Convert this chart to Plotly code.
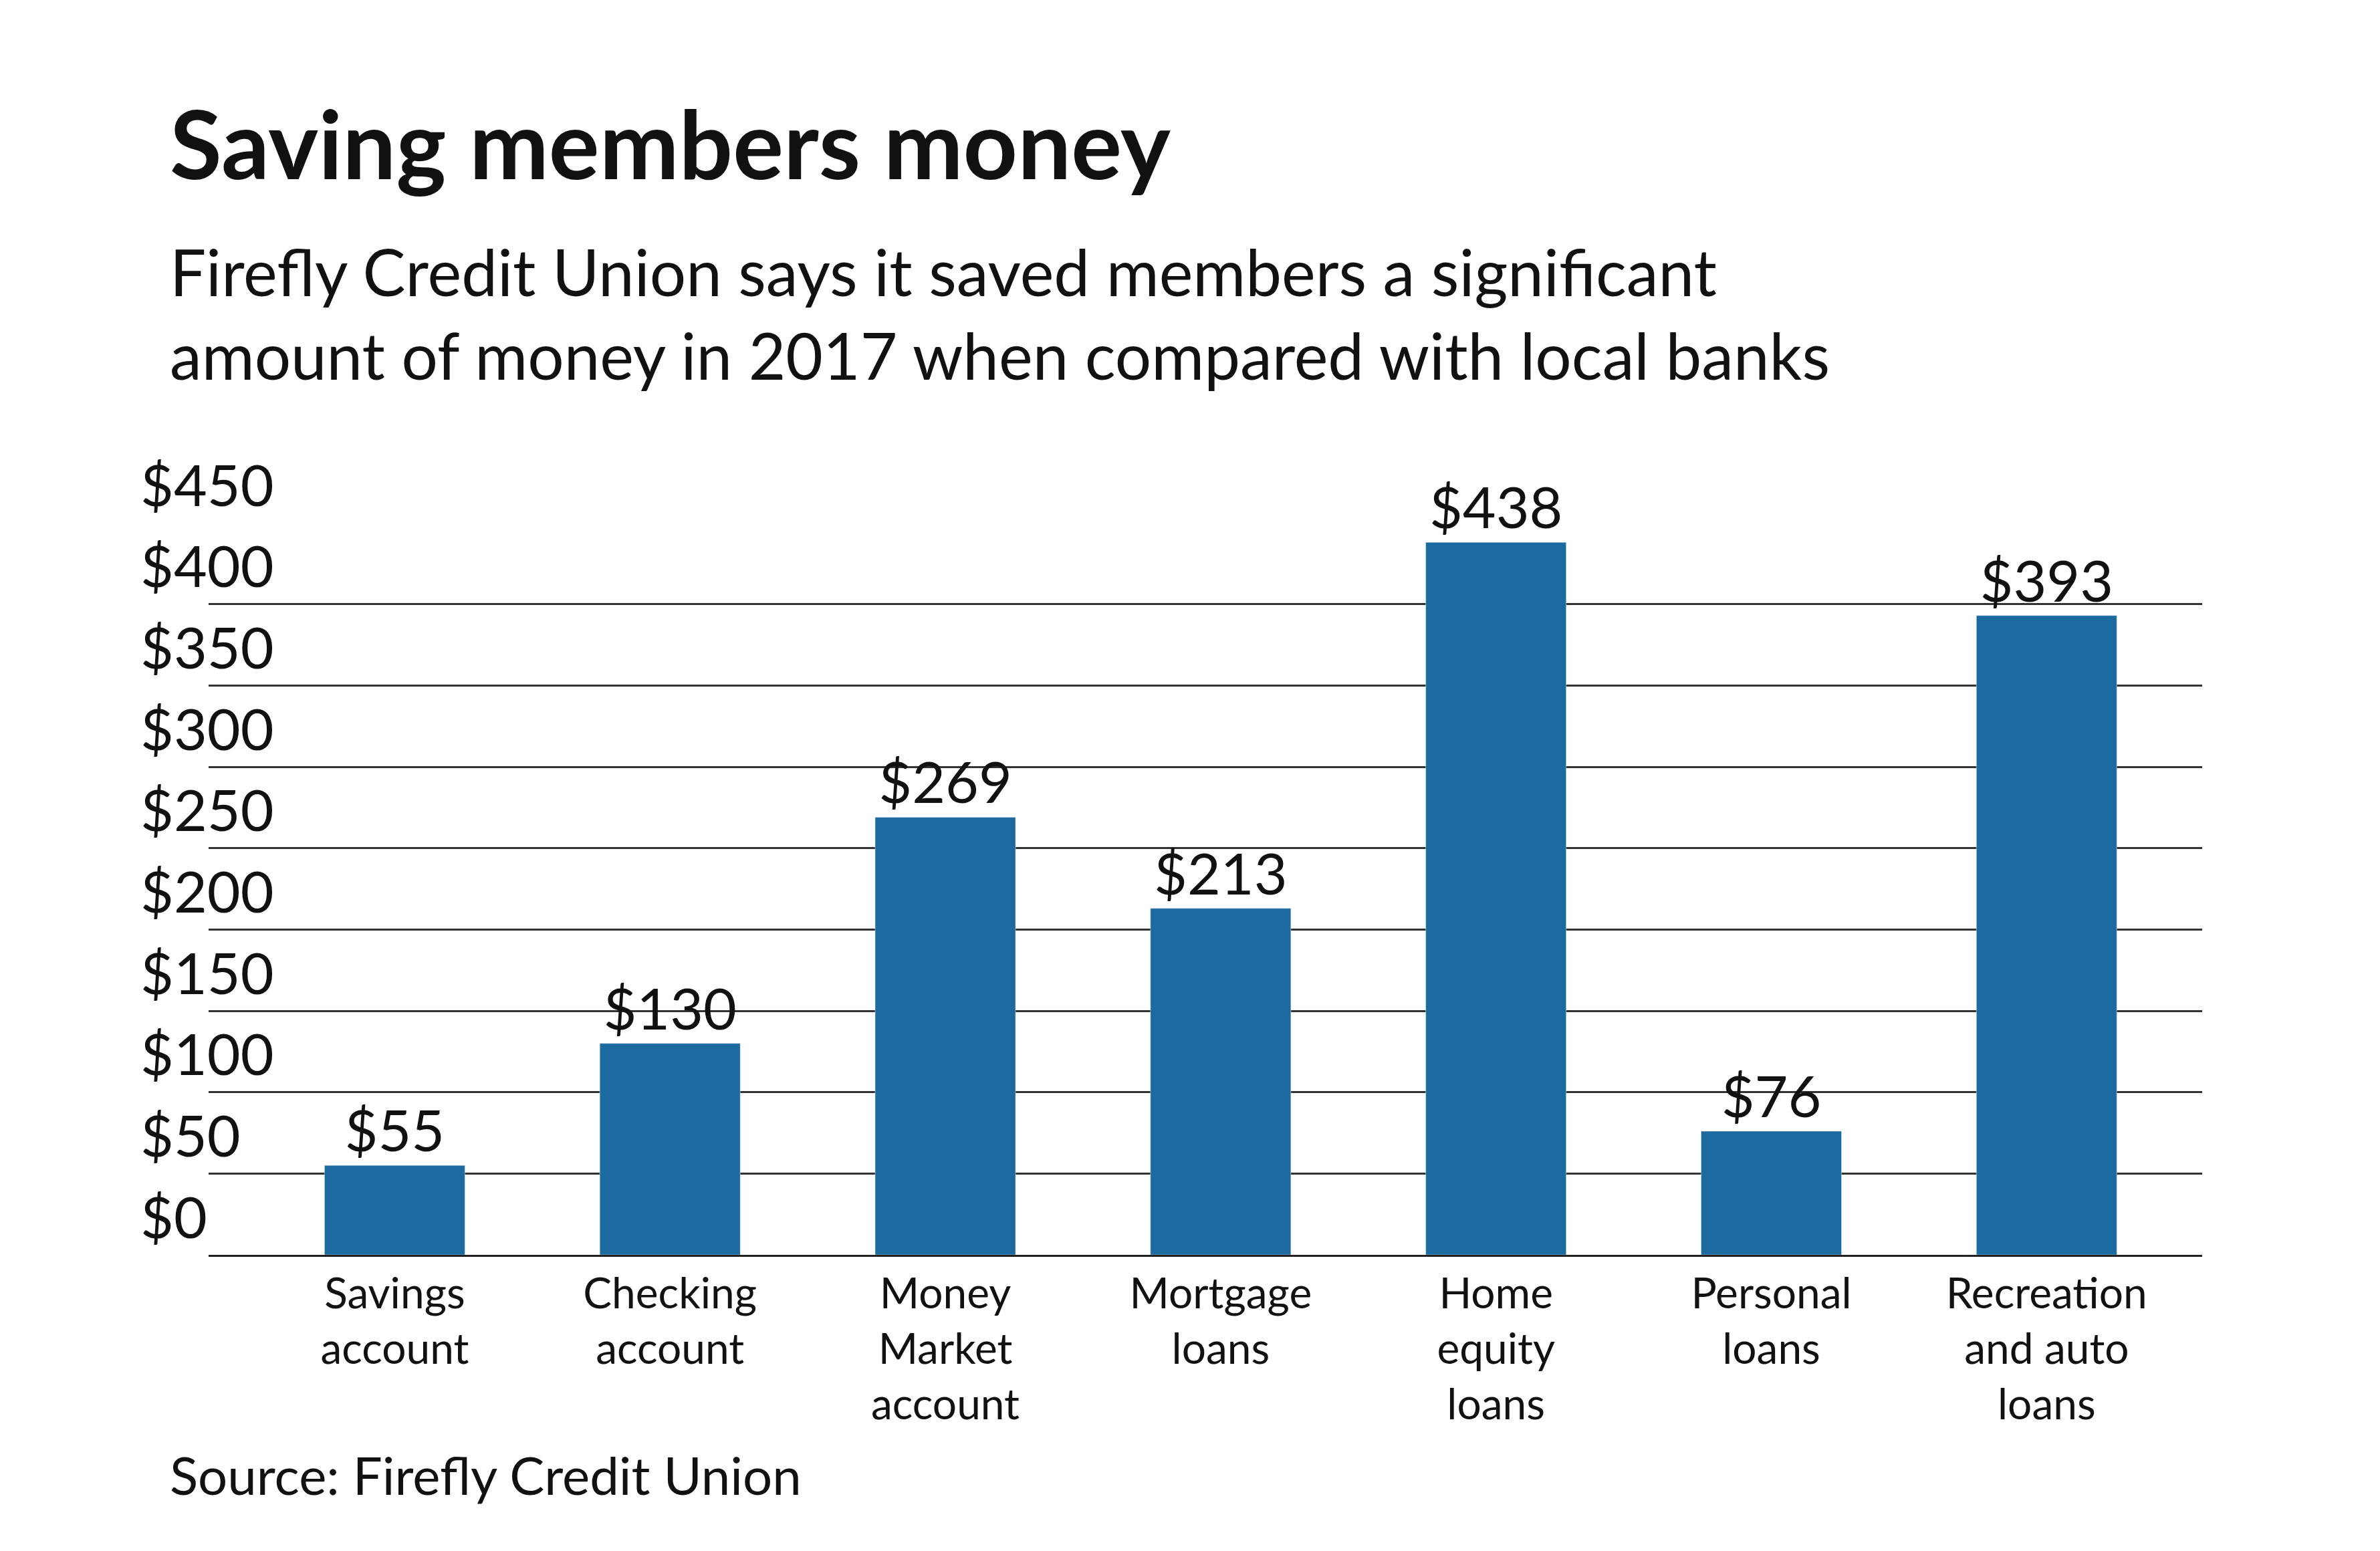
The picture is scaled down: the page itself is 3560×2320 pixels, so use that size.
import plotly.graph_objects as go

categories = ["Savings<br>account", "Checking<br>account", "Money<br>Market<br>account",
              "Mortgage<br>loans", "Home<br>equity<br>loans", "Personal<br>loans",
              "Recreation<br>and auto<br>loans"]
savings = [55, 130, 269, 213, 438, 76, 393]
tick_vals = [0, 50, 100, 150, 200, 250, 300, 350, 400, 450]

font = "Lato"
fig = go.Figure(go.Bar(
    x=list(range(len(categories))), y=savings,
    marker_color="#1c6aa0", width=0.51,
    text=["$" + str(v) for v in savings], textposition="outside",
    textfont=dict(size=86, color="#111", family=font), cliponaxis=False,
))

for v in tick_vals:
    fig.add_annotation(xref="paper", yref="y", x=-0.035, y=v, xanchor="left",
                       yanchor="middle", yshift=59, showarrow=False,
                       text="$" + str(v), font=dict(size=86, color="#111", family=font))

fig.add_annotation(xref="paper", yref="paper", x=-0.02, y=1.52, xanchor="left",
                   yanchor="middle", showarrow=False, text="<b>Saving members money</b>",
                   font=dict(size=142, color="#111", family=font))
fig.add_annotation(xref="paper", yref="paper", x=-0.02, y=1.287, xanchor="left",
                   yanchor="middle", showarrow=False, align="left",
                   text="Firefly Credit Union says it saved members a significant<br>"
                        "amount of money in 2017 when compared with local banks",
                   font=dict(size=96, color="#111", family=font))
fig.add_annotation(xref="paper", yref="paper", x=-0.02, y=-0.30, xanchor="left",
                   yanchor="middle", showarrow=False, text="Source: Firefly Credit Union",
                   font=dict(size=78, color="#111", family=font))

fig.update_layout(
    width=3560, height=2320, plot_bgcolor="white", paper_bgcolor="white",
    margin=dict(l=304, r=274, t=774, b=451), showlegend=False,
    xaxis=dict(tickvals=list(range(len(categories))), ticktext=categories,
               range=[-0.676, 6.565], tickfont=dict(size=64, color="#111", family=font),
               showline=True, linecolor="#222", linewidth=3, ticks="", showgrid=False),
    yaxis=dict(range=[0, 450], tickvals=tick_vals, showticklabels=False,
               showgrid=True, gridcolor="#333", gridwidth=3, zeroline=False),
)
fig.write_html("out.html")
